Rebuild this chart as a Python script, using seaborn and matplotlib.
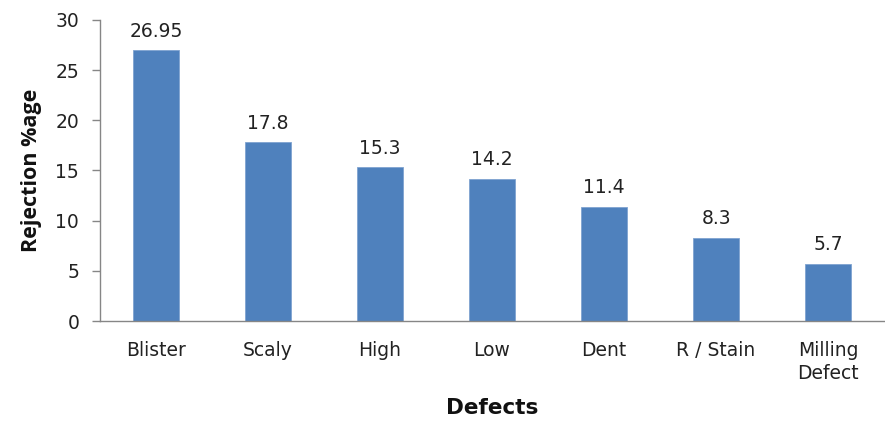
import matplotlib
matplotlib.use("Agg")
import matplotlib.pyplot as plt
import seaborn as sns
import pandas as pd
import numpy as np

categories = ["Blister", "Scaly", "High", "Low", "Dent", "R / Stain", "Milling\nDefect"]
values = [26.95, 17.8, 15.3, 14.2, 11.4, 8.3, 5.7]
value_labels = ["26.95", "17.8", "15.3", "14.2", "11.4", "8.3", "5.7"]
y_ticks = [0, 5, 10, 15, 20, 25, 30]

sns.set_style("white")
plt.rcParams['font.family'] = ['DejaVu Sans']

df = pd.DataFrame({"Defects": categories, "Rejection": values})

fig = plt.figure(figsize=(8.85, 4.22), dpi=100)
ax = fig.add_axes([0.113, 0.239, 0.886, 0.714])

sns.barplot(data=df, x="Defects", y="Rejection", ax=ax, color="#4F81BD",
            saturation=1, width=0.41, edgecolor="#7FA3D0", linewidth=0.6)

ax.set_xlim(-0.5, len(categories) - 0.5)
ax.set_ylim(0, 30)
ax.set_yticks(y_ticks)
ax.set_yticklabels([str(t) for t in y_ticks], fontsize=13.5, color="#222222")

ax.set_xticks(range(len(categories)))
ax.set_xticklabels(categories, fontsize=13.5, color="#222222", linespacing=1.3)
ax.set_xticks(np.arange(-0.5, len(categories), 1.0), minor=True)
ax.tick_params(axis="x", which="major", length=0, pad=14)
ax.tick_params(axis="x", which="minor", length=5, width=1, color="#868686", direction="out")
ax.tick_params(axis="y", length=6, width=1, color="#868686", direction="out", pad=9, left=True)

for s in ["top", "right"]:
    ax.spines[s].set_visible(False)
for s in ["left", "bottom"]:
    ax.spines[s].set_color("#868686")
    ax.spines[s].set_linewidth(1.0)

for i, (v, lab) in enumerate(zip(values, value_labels)):
    ax.annotate(lab, (i, v), xytext=(0, 7), textcoords="offset points",
                ha="center", va="bottom", fontsize=13.5, color="#222222")

ax.set_xlabel("Defects", fontsize=15.5, fontweight="bold", labelpad=11, color="#111111")
ax.set_ylabel("Rejection %age", fontsize=15.5, fontweight="bold", labelpad=10, color="#111111",
              family=["Open Sans", "DejaVu Sans"])

fig.savefig("out.png", dpi=100)
